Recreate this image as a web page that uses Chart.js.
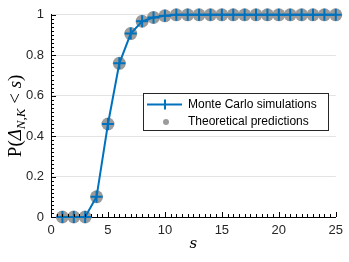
<!DOCTYPE html>
<html>
<head>
<meta charset="utf-8">
<script src="https://cdn.jsdelivr.net/npm/chart.js@4"></script>
<style>
  html, body { margin: 0; padding: 0; background: #fff; }
  #wrap { width: 349px; height: 262px; }
</style>
</head>
<body>
<div id="wrap"><canvas id="myChart" width="349" height="262"></canvas></div>
<script>
// s values and probabilities
var sValues = [1, 2, 3, 4, 5, 6, 7, 8, 9, 10, 11, 12, 13, 14, 15, 16, 17, 18, 19, 20, 21, 22, 23, 24, 25];
var monteCarlo = [0, 0, 0, 0.10, 0.46, 0.76, 0.907, 0.968, 0.987, 0.995, 1, 1, 1, 1, 1, 1, 1, 1, 1, 1, 1, 1, 1, 1, 1];
var theoretical = [0, 0, 0, 0.10, 0.46, 0.76, 0.907, 0.968, 0.987, 0.995, 1, 1, 1, 1, 1, 1, 1, 1, 1, 1, 1, 1, 1, 1, 1];
var xTicks = [0, 5, 10, 15, 20, 25];
var yTicks = [0, 0.2, 0.4, 0.6, 0.8, 1];
var legendLabels = ['Monte Carlo simulations', 'Theoretical predictions'];

var blue = '#0072BD';
var grey = '#9b9b9b';
var tickFont = "'Liberation Sans', Arial, sans-serif";

function toPoints(ys) {
    return sValues.map(function(s, i) { return { x: s, y: ys[i] }; });
}

// inward major/minor ticks like the matlab axes
var axisTicks = {
    id: 'axisTicks',
    afterDraw: function(chart) {
        var ctx = chart.ctx, a = chart.chartArea;
        var xs = chart.scales.x, ys = chart.scales.y;
        ctx.save();
        ctx.strokeStyle = '#000';
        ctx.lineWidth = 1;
        ctx.beginPath();
        for (var i = 0; i <= 50; i++) {
            var v = i * 0.5;
            var px = Math.round(xs.getPixelForValue(v)) + 0.5;
            var len = (i % 10 === 0) ? 5 : 3;
            ctx.moveTo(px, a.bottom);
            ctx.lineTo(px, a.bottom - len);
        }
        for (var j = 0; j <= 50; j++) {
            var w = j * 0.02;
            var py = Math.round(ys.getPixelForValue(w)) + 0.5;
            var l2 = (j % 10 === 0) ? 5 : 3;
            ctx.moveTo(a.left, py);
            ctx.lineTo(a.left + l2, py);
        }
        ctx.stroke();
        ctx.restore();
    }
};

// axis titles drawn with the subscript
var axisTitles = {
    id: 'axisTitles',
    afterDraw: function(chart) {
        var ctx = chart.ctx, a = chart.chartArea;
        ctx.save();
        ctx.fillStyle = '#000';
        // x title
        ctx.font = "italic 15px 'DejaVu Serif', 'Liberation Serif', serif";
        ctx.textAlign = 'center';
        ctx.textBaseline = 'alphabetic';
        ctx.fillText('s', chart.scales.x.getPixelForValue(12.5), 248);

        // y title: P(Δ_{N,K} < s)
        var parts = [
            { t: 'P(', f: "19px 'Liberation Serif', serif", dy: 0 },
            { t: 'Δ', f: "italic 19px 'Liberation Serif', serif", dy: 0 },
            { t: 'N,K', f: "italic 13px 'Liberation Serif', serif", dy: 4 },
            { t: ' < ', f: "19px 'Liberation Serif', serif", dy: 0 },
            { t: 's', f: "italic 19px 'Liberation Serif', serif", dy: 0 },
            { t: ')', f: "19px 'Liberation Serif', serif", dy: 0 }
        ];
        var total = 0;
        parts.forEach(function(p) { ctx.font = p.f; p.w = ctx.measureText(p.t).width; total += p.w; });
        ctx.translate(21, (a.top + a.bottom) / 2);
        ctx.rotate(-Math.PI / 2);
        ctx.textAlign = 'left';
        var x = -total / 2;
        parts.forEach(function(p) {
            ctx.font = p.f;
            ctx.fillText(p.t, x, p.dy);
            x += p.w;
        });
        ctx.restore();
    }
};

// boxed legend inside the plot
var boxLegend = {
    id: 'boxLegend',
    afterDraw: function(chart) {
        var ctx = chart.ctx;
        var bx = 143.5, by = 93.5, bw = 185, bh = 37;
        ctx.save();
        ctx.fillStyle = '#fff';
        ctx.fillRect(bx, by, bw, bh);
        ctx.strokeStyle = '#262626';
        ctx.lineWidth = 1;
        ctx.strokeRect(bx, by, bw, bh);

        var r1 = 104.5, r2 = 122;
        ctx.strokeStyle = blue;
        ctx.lineWidth = 2;
        ctx.beginPath();
        ctx.moveTo(147, r1); ctx.lineTo(182, r1);
        ctx.moveTo(165, r1 - 5); ctx.lineTo(165, r1 + 5);
        ctx.stroke();

        ctx.fillStyle = grey;
        ctx.beginPath();
        ctx.arc(166, r2, 3, 0, Math.PI * 2);
        ctx.fill();

        ctx.fillStyle = '#000';
        ctx.font = '12px ' + tickFont;
        ctx.textBaseline = 'middle';
        ctx.fillText(legendLabels[0], 188, r1);
        ctx.fillText(legendLabels[1], 188, r2);
        ctx.restore();
    }
};

var ctx = document.getElementById('myChart').getContext('2d');
var myChart = new Chart(ctx, {
    type: 'line',
    data: {
        datasets: [{
            label: legendLabels[0],
            data: toPoints(monteCarlo),
            borderColor: blue,
            backgroundColor: blue,
            borderWidth: 2,
            pointStyle: 'cross',
            pointRadius: 6,
            pointBorderWidth: 2,
            pointBorderColor: blue,
            tension: 0,
            clip: false,
            order: 0
        }, {
            label: legendLabels[1],
            data: toPoints(theoretical),
            showLine: false,
            pointStyle: 'circle',
            pointRadius: 6.5,
            pointBorderWidth: 0,
            pointBackgroundColor: grey,
            borderColor: grey,
            clip: false,
            order: 1
        }]
    },
    options: {
        responsive: false,
        animation: false,
        layout: { padding: { top: 10, right: 11, left: 0, bottom: 0 } },
        scales: {
            x: {
                type: 'linear',
                min: 0,
                max: 25,
                afterBuildTicks: function(scale) { scale.ticks = xTicks.map(function(v) { return { value: v }; }); },
                afterFit: function(scale) { scale.height = 45; },
                ticks: { color: '#262626', font: { size: 13, family: tickFont }, padding: 6 },
                grid: { display: false, drawTicks: false },
                border: { display: true, color: '#000', width: 1 }
            },
            y: {
                min: 0,
                max: 1,
                afterBuildTicks: function(scale) { scale.ticks = yTicks.map(function(v) { return { value: v }; }); },
                afterFit: function(scale) { scale.width = 51; },
                ticks: {
                    color: '#262626',
                    font: { size: 13, family: tickFont },
                    padding: 7,
                    callback: function(v) { return String(Math.round(v * 10) / 10); }
                },
                grid: { color: '#e3e3e3', drawTicks: false },
                border: { display: true, color: '#000', width: 1 }
            }
        },
        plugins: {
            legend: { display: false },
            tooltip: { enabled: false }
        }
    },
    plugins: [axisTicks, axisTitles, boxLegend]
});
</script>
</body>
</html>
